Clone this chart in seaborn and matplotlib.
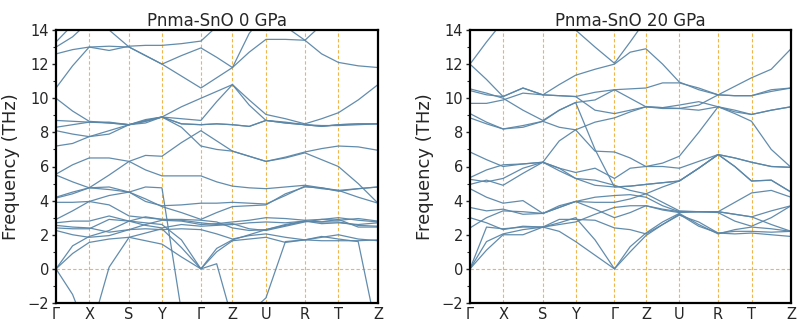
import numpy as np
import pandas as pd
import matplotlib
matplotlib.use("Agg")
import matplotlib.pyplot as plt
from matplotlib.ticker import MultipleLocator
import seaborn as sns

# ---- data ----------------------------------------------------------------
kpath_labels = ["Γ", "X", "S", "Y", "Γ", "Z", "U", "R", "T", "Z"]
kpath_pos = [0.0, 0.103, 0.227, 0.329, 0.45, 0.548, 0.652, 0.773, 0.877, 1.0]
# sample positions along the path: high-symmetry points and segment midpoints
k_samples = [0.0, 0.0515, 0.103, 0.165, 0.227, 0.278, 0.329, 0.3895, 0.45,
             0.499, 0.548, 0.600, 0.652, 0.7125, 0.773, 0.825, 0.877, 0.9385, 1.0]

titles = ["Pnma-SnO 0 GPa", "Pnma-SnO 20 GPa"]

bands_0gpa = [
    [0, -1.5, -4, 0.1, 1.85, 1.65, 1.45, 0.7, 0, 0.3, -3, -2.6, -1.7, 1.6, 1.7, 1.9, 1.75, 1.6, -4],
    [0, 0.9, 1.55, 1.75, 1.85, 2.1, 2.35, 1.25, 0, 1.0, 1.65, 1.75, 1.85, 1.55, 1.7, 1.65, 1.65, 1.65, 1.7],
    [0, 1.35, 1.9, 2.25, 2.8, 2.7, 2.6, 1.7, 0, 1.2, 1.7, 2.0, 2.3, 2.55, 2.8, 2.75, 2.75, 2.55, 2.5],
    [2.25, 2.0, 1.85, 1.95, 2.3, 2.35, 2.3, 2.35, 2.3, 2.05, 1.75, 1.95, 2.05, 1.85, 1.7, 1.85, 2.0, 1.75, 1.65],
    [2.4, 2.35, 2.35, 2.9, 2.8, 2.55, 2.4, 2.6, 2.5, 2.55, 2.6, 2.7, 2.75, 2.7, 2.8, 2.65, 2.7, 2.6, 2.7],
    [2.55, 2.45, 2.4, 2.15, 2.3, 2.6, 2.85, 2.8, 2.6, 2.65, 2.75, 2.85, 3.0, 2.95, 2.85, 2.9, 3.0, 2.85, 2.75],
    [2.7, 2.8, 2.8, 3.1, 2.8, 3.05, 2.9, 2.85, 2.7, 2.6, 2.65, 2.35, 2.25, 2.5, 2.75, 2.9, 2.85, 2.95, 2.8],
    [2.9, 3.4, 3.95, 3.75, 3.1, 3.0, 2.9, 2.9, 2.85, 2.75, 2.4, 2.25, 2.3, 2.6, 2.8, 2.75, 2.9, 2.45, 2.45],
    [3.9, 3.9, 3.95, 4.3, 4.5, 3.95, 3.7, 3.75, 3.85, 3.85, 3.9, 3.85, 3.8, 4.3, 4.85, 4.7, 4.6, 4.2, 3.85],
    [4.2, 4.5, 4.75, 4.65, 4.5, 4.1, 3.65, 3.3, 2.9, 3.3, 3.65, 3.7, 3.75, 4.4, 4.8, 4.75, 4.55, 4.7, 4.8],
    [4.15, 4.4, 4.75, 4.8, 4.5, 4.8, 4.75, -2.5, -5, -5, -5, -5, -5, -5, -5, -5, -5, -5, -5],
    [5.55, 6.1, 6.5, 6.5, 6.3, 5.8, 5.45, 5.45, 5.45, 5.1, 4.85, 4.75, 4.7, 4.8, 4.9, 4.75, 4.6, 4.7, 4.8],
    [7.2, 7.35, 7.75, 8.1, 8.45, 8.7, 8.9, 8.8, 8.7, 9.8, 10.8, 9.9, 9.05, 8.8, 8.5, 8.8, 9.15, 9.9, 10.8],
    [8.1, 7.9, 7.75, 7.9, 8.45, 8.55, 8.9, 8.3, 7.2, 7.0, 6.9, 6.6, 6.3, 6.5, 6.8, 6.4, 6.0, 5.0, 3.85],
    [8.3, 8.45, 8.6, 8.55, 8.45, 8.65, 8.9, 8.5, 8.45, 8.5, 8.45, 8.35, 8.7, 8.55, 8.45, 8.35, 8.45, 8.5, 8.5],
    [5.5, 5.1, 4.75, 5.5, 6.3, 6.65, 6.6, 7.4, 8.1, 7.5, 6.9, 6.6, 6.3, 6.55, 6.85, 7.05, 7.2, 7.15, 6.95],
    [10.0, 9.25, 8.65, 8.55, 8.45, 8.75, 8.9, 9.5, 10.0, 10.4, 10.8, 9.6, 8.7, 8.6, 8.45, 8.4, 8.4, 8.45, 8.5],
    [8.7, 8.65, 8.6, 8.6, 8.45, 8.65, 8.9, 8.5, 8.45, 8.5, 8.45, 8.35, 8.7, 8.55, 8.45, 8.35, 8.45, 8.5, 8.5],
    [10.6, 11.9, 13.0, 12.8, 13.05, 13.1, 13.1, 13.2, 13.35, 14.2, 15, 15, 15, 15, 15, 15, 15, 15, 15],
    [12.6, 12.85, 13.0, 13.05, 13.0, 12.5, 12.0, 12.5, 12.95, 12.4, 11.8, 12.7, 13.45, 13.45, 13.4, 12.6, 12.1, 11.9, 11.8],
    [13.0, 13.6, 14.5, 14.0, 13.0, 12.5, 12.0, 11.3, 10.6, 11.2, 11.8, 13.8, 15, 15, 15, 15, 15, 15, 15],
    [13.3, 14.3, 15, 15, 15, 15, 15, 15, 15, 15, 15, 15, 15, 14.2, 13.4, 14.3, 15, 15, 15],
]

bands_20gpa = [
    [0, 1.1, 2.0, 2.0, 2.45, 2.2, 1.6, 0.8, 0, 1.0, 1.95, 2.6, 3.2, 2.5, 2.1, 2.05, 2.1, 2.0, 1.9],
    [0, 1.6, 2.05, 2.3, 2.45, 2.7, 3.0, 1.7, 0, 1.3, 2.1, 2.75, 3.25, 2.6, 2.05, 2.3, 2.45, 2.35, 2.2],
    [0, 2.45, 2.35, 2.45, 2.45, 2.9, 2.9, 2.85, 2.4, 2.3, 2.05, 2.6, 3.15, 2.75, 2.1, 2.2, 2.2, 2.15, 2.2],
    [2.4, 3.0, 3.4, 3.35, 3.25, 3.6, 3.95, 3.5, 3.0, 3.3, 3.7, 3.5, 3.35, 3.35, 3.35, 3.2, 3.05, 3.4, 3.7],
    [3.0, 2.7, 2.3, 2.5, 2.45, 2.6, 2.75, 3.2, 3.6, 3.7, 3.7, 3.45, 3.3, 3.35, 3.35, 3.2, 3.05, 2.6, 2.2],
    [3.6, 3.4, 3.5, 3.2, 3.25, 3.7, 3.95, 3.9, 3.9, 4.1, 4.4, 3.9, 3.4, 3.35, 3.35, 3.9, 4.45, 4.6, 4.2],
    [4.7, 4.2, 3.85, 4.0, 3.25, 3.6, 3.95, 4.2, 4.3, 4.35, 4.2, 3.7, 3.35, 3.35, 3.3, 2.8, 2.5, 3.0, 3.7],
    [4.95, 5.2, 4.9, 5.6, 6.25, 5.75, 5.3, 4.9, 4.8, 4.85, 4.95, 5.05, 5.15, 5.9, 6.7, 6.0, 5.15, 5.2, 4.5],
    [5.25, 5.1, 5.3, 5.9, 6.25, 5.9, 5.65, 5.9, 5.3, 5.9, 6.0, 6.2, 6.6, 8.0, 9.5, 9.2, 9.05, 9.3, 9.5],
    [5.35, 5.8, 6.1, 6.15, 6.25, 5.9, 5.3, 5.2, 4.9, 4.6, 4.4, 4.8, 5.15, 5.9, 6.7, 6.5, 6.25, 6.0, 5.95],
    [6.85, 6.4, 6.0, 6.15, 6.25, 7.5, 8.15, 6.9, 6.85, 6.5, 6.0, 6.0, 5.9, 6.3, 6.7, 6.5, 6.25, 6.0, 5.95],
    [8.85, 8.5, 8.2, 8.3, 8.65, 8.3, 8.15, 8.6, 8.85, 9.2, 9.5, 9.45, 9.4, 9.3, 9.5, 9.3, 9.05, 9.3, 9.5],
    [9.1, 8.6, 8.2, 8.4, 8.65, 9.3, 9.75, 7.0, 4.8, 4.85, 4.95, 5.05, 5.15, 5.9, 6.7, 6.0, 5.15, 5.2, 4.5],
    [9.7, 9.7, 9.9, 10.3, 10.2, 10.15, 10.1, 10.35, 10.5, 10.55, 10.6, 10.9, 10.9, 10.6, 10.2, 10.15, 10.15, 10.4, 10.6],
    [10.45, 10.2, 10.1, 10.6, 10.2, 10.8, 11.35, 11.7, 12.0, 12.7, 12.9, 12.0, 10.95, 10.5, 10.2, 10.7, 11.2, 11.7, 12.9],
    [10.55, 10.3, 10.0, 9.3, 8.7, 9.3, 9.75, 9.9, 10.5, 10.0, 9.5, 9.45, 9.6, 9.8, 9.5, 9.1, 8.65, 7.0, 5.95],
    [12.0, 11.1, 10.1, 10.6, 10.2, 10.15, 10.1, 9.3, 9.1, 9.3, 9.5, 9.4, 9.4, 9.6, 10.2, 10.15, 10.15, 10.5, 10.6],
    [12.0, 13.3, 14.5, 15, 15, 14.6, 14.0, 13.0, 12.05, 13.3, 14.6, 15, 15, 15, 15, 15, 15, 15, 15],
]

y_ticks = [-2, 0, 2, 4, 6, 8, 10, 12, 14]

# ---- style ---------------------------------------------------------------
sns.set_theme(style="white")
plt.rcParams["font.family"] = ["DejaVu Sans"]

band_color = "#5a86a8"
guide_color = "#efb64c"

fig = plt.figure(figsize=(7.97, 3.29), dpi=100)
W, H = 797, 329
rects = [(56, 30, 322, 273), (470, 30, 321, 273)]

for (x0, y0, w, h), title, bands in zip(rects, titles, [bands_0gpa, bands_20gpa]):
    ax = fig.add_axes([x0 / W, 1 - (y0 + h) / H, w / W, h / H])
    rows = []
    for b, vals in enumerate(bands):
        for k, f in zip(k_samples, vals):
            rows.append({"k": k, "freq": f, "band": b})
    df = pd.DataFrame(rows)
    sns.lineplot(data=df, x="k", y="freq", units="band", estimator=None,
                 sort=False, color=band_color, linewidth=0.9, alpha=0.95, ax=ax)
    for p in kpath_pos[1:-1]:
        ax.axvline(p, color=guide_color, ls=(0, (3, 2)), lw=0.8, zorder=0)
    ax.axhline(0, color=guide_color, ls=(0, (3, 2)), lw=0.8, zorder=0)
    ax.set_xlim(0, 1)
    ax.set_ylim(-2, 14)
    ax.set_xticks(kpath_pos)
    ax.set_xticklabels(kpath_labels, fontsize=10.5)
    ax.set_yticks(y_ticks)
    ax.set_yticklabels([str(t) if t >= 0 else "\u22122" for t in y_ticks], fontsize=10.5)
    ax.yaxis.set_minor_locator(MultipleLocator(1))
    ax.tick_params(axis="y", which="major", left=True, length=3, width=1, pad=2)
    ax.tick_params(axis="y", which="minor", left=True, length=2, width=0.8)
    ax.tick_params(axis="x", which="both", bottom=False, length=0, pad=3)
    for s in ax.spines.values():
        s.set_linewidth(1.6)
        s.set_color("black")
    ax.set_xlabel("")
    ax.set_ylabel("Frequency (THz)", fontsize=13, labelpad=5)
    ax.set_title(title, fontsize=12, pad=3)

fig.savefig("out.png", dpi=100)
